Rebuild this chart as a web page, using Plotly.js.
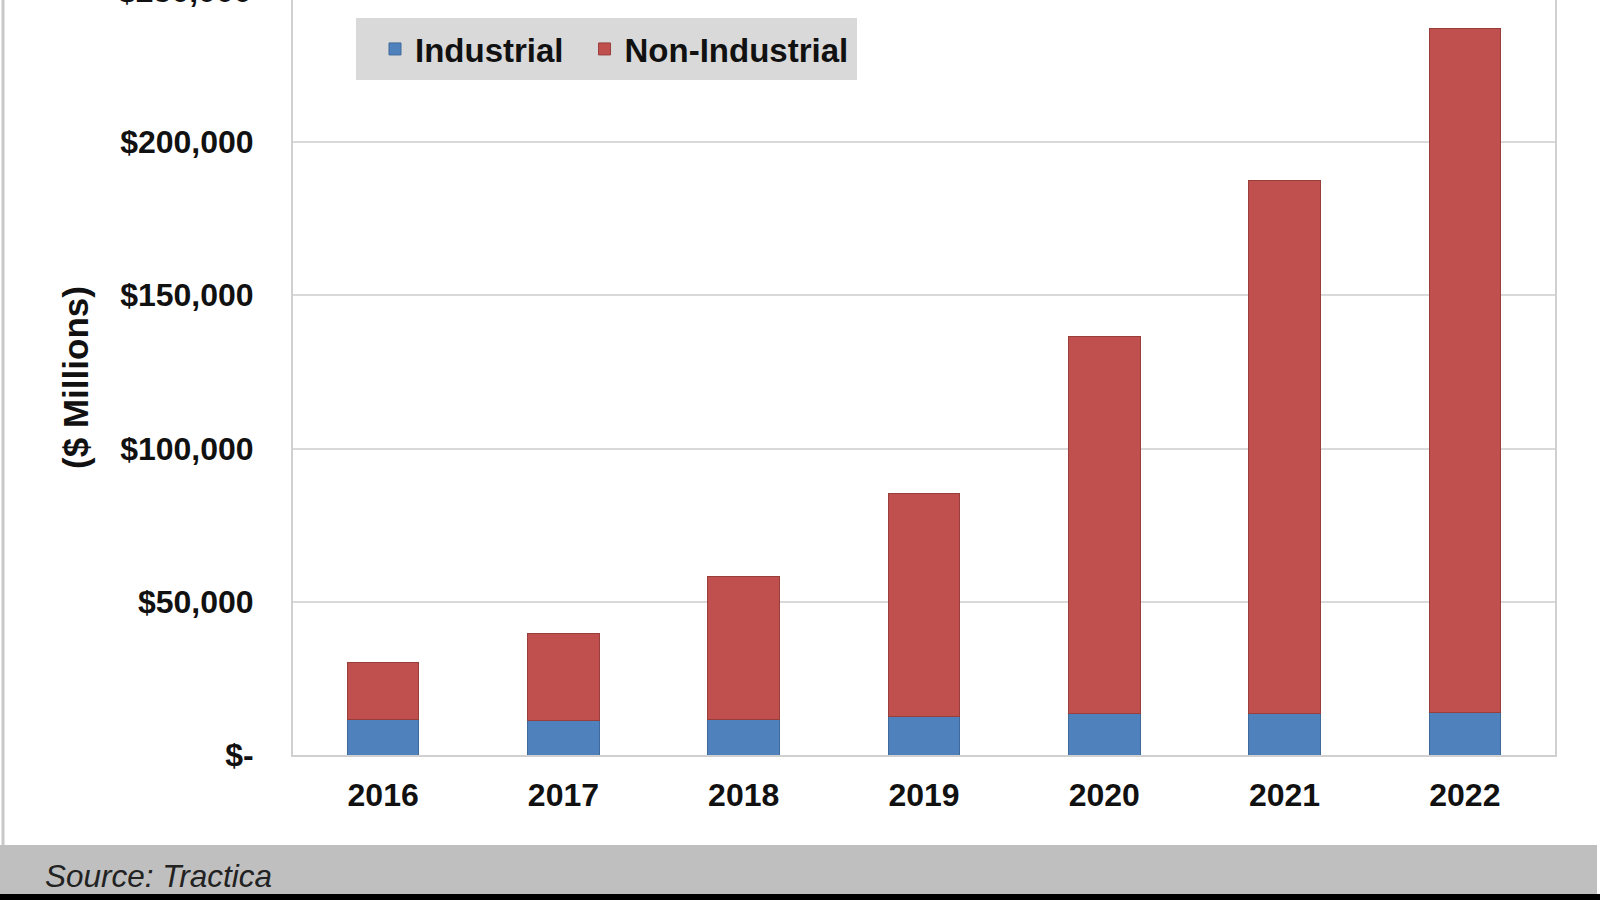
<!DOCTYPE html>
<html>
<head>
<meta charset="utf-8">
<script src="https://cdn.plot.ly/plotly-3.0.1.min.js"></script>
<style>
  html, body { margin: 0; padding: 0; background: #ffffff; }
  #chart { width: 1600px; height: 900px; }
</style>
</head>
<body>
<div id="chart"></div>
<script>
// Data (values in $ millions)
const years = ['2016', '2017', '2018', '2019', '2020', '2021', '2022'];
const industrial = [11700, 11400, 11500, 12400, 13500, 13500, 13800];
const totals = [30300, 39500, 58400, 85200, 136400, 187300, 236900];
const nonIndustrial = totals.map((t, i) => t - industrial[i]);

const yTickVals = [0, 50000, 100000, 150000, 200000];
const yTickText = ['$-', '$50,000', '$100,000', '$150,000', '$200,000'];
const topCutLabel = '$250,000';
const seriesNames = ['Industrial', 'Non-Industrial'];
const sourceText = 'Source: Tractica';

// Layout geometry helpers (pixels of the 1600x900 page)
const W = 1600, H = 900;
const L = 293, R = 1555, T = 0, B = 755;
const px = x => (x - L) / (R - L);
const py = y => (B - y) / (B - T);

const FONT = 'Liberation Sans, Arial, sans-serif';

const traces = [
  {
    type: 'bar', name: seriesNames[0], x: years, y: industrial,
    marker: { color: '#4F81BD', line: { color: '#3F6A9C', width: 1 } },
    hoverinfo: 'x+y+name'
  },
  {
    type: 'bar', name: seriesNames[1], x: years, y: nonIndustrial,
    marker: { color: '#C0504D', line: { color: '#9A3E3C', width: 1 } },
    hoverinfo: 'x+y+name'
  }
];

const layout = {
  width: W, height: H,
  margin: { l: L, r: W - R, t: T, b: H - B, pad: 0 },
  paper_bgcolor: '#FFFFFF',
  plot_bgcolor: '#FFFFFF',
  barmode: 'stack',
  bargap: 0.603,
  font: { family: FONT, color: '#000000' },
  showlegend: true,
  legend: {
    orientation: 'h',
    x: px(356), y: py(18), xanchor: 'left', yanchor: 'top',
    bgcolor: '#D9D9D9', bordercolor: '#D9D9D9', borderwidth: 3,
    indentation: 16,
    font: { family: FONT, size: 33, color: '#111111', weight: 'bold' },
    itemclick: false, itemdoubleclick: false,
    traceorder: 'normal'
  },
  xaxis: {
    type: 'category',
    showgrid: false,
    showline: true, linecolor: '#D0D0D0', linewidth: 2,
    ticks: '',
    ticklabelstandoff: 11,
    tickfont: { family: FONT, size: 32, color: '#111111', weight: 'bold' },
    zeroline: false
  },
  yaxis: {
    range: [0, 755 / 613 * 200000],
    tickvals: yTickVals, ticktext: yTickText,
    showgrid: true, gridcolor: '#D9D9D9', gridwidth: 2,
    showline: true, mirror: true, linecolor: '#D0D0D0', linewidth: 2,
    ticks: '',
    ticklabelstandoff: 31,
    tickfont: { family: FONT, size: 32, color: '#111111', weight: 'bold' },
    zeroline: false,
    title: {
      text: '($ Millions)',
      font: { family: FONT, size: 35, color: '#111111', weight: 'bold' },
      standoff: 21
    }
  },
  shapes: [
    // left frame line
    { type: 'line', xref: 'paper', yref: 'paper', x0: px(3), x1: px(3), y0: py(-5), y1: py(845),
      line: { color: '#C8C8C8', width: 3 } },
    // gray source band
    { type: 'rect', xref: 'paper', yref: 'paper', x0: px(0), x1: px(1597), y0: py(845), y1: py(894),
      fillcolor: '#BFBFBF', line: { width: 0 }, layer: 'above' },
    // black bottom strip
    { type: 'rect', xref: 'paper', yref: 'paper', x0: px(0), x1: px(1605), y0: py(894), y1: py(905),
      fillcolor: '#000000', line: { width: 0 }, layer: 'above' }
  ],
  annotations: [
    { text: topCutLabel, xref: 'paper', yref: 'paper', x: px(253), y: py(-9),
      xanchor: 'right', yanchor: 'middle', showarrow: false,
      font: { family: FONT, size: 32, color: '#111111', weight: 'bold' } },
    { text: sourceText, xref: 'paper', yref: 'paper', x: px(43), y: py(876),
      xanchor: 'left', yanchor: 'middle', showarrow: false,
      font: { family: FONT, size: 31.5, color: '#222222', style: 'italic' } }
  ]
};

Plotly.newPlot('chart', traces, layout, { displayModeBar: false });
</script>
</body>
</html>
